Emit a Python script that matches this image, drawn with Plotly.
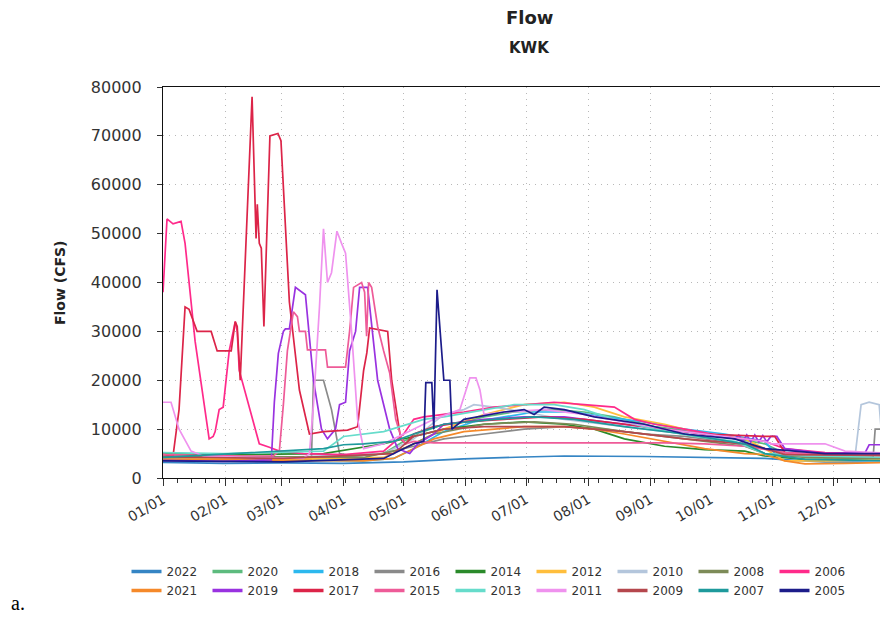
import pandas as pd
import plotly.graph_objects as go

# ---- data (day of year offset from 01/01, flow in CFS) ----
d2022 = [0, 30, 60, 90, 120, 135, 150, 180, 200, 240, 270, 300, 315, 330, 364]
v2022 = [3200, 3000, 3100, 3000, 3300, 3600, 3900, 4300, 4500, 4400, 4200, 4000, 3600, 3300, 3200]

d2021 = [0, 60, 100, 115, 125, 135, 150, 165, 180, 200, 215, 230, 250, 270, 290, 300, 310, 320, 340, 364]
v2021 = [3800, 3600, 3500, 4000, 6000, 8000, 9500, 10000, 10500, 10500, 10000, 9000, 7500, 6000, 5000, 4800, 3500, 2900, 3000, 3200]

d2020 = [0, 40, 90, 110, 120, 130, 140, 150, 160, 175, 195, 210, 225, 245, 265, 285, 300, 310, 330, 364]
v2020 = [4600, 4300, 4300, 5000, 7500, 9500, 11000, 11500, 12500, 13500, 14000, 13500, 12500, 10500, 9500, 8000, 7000, 5000, 4200, 4000]

d2019 = [0, 30, 54, 55.5, 57.5, 60, 61, 63, 66, 71, 75, 79, 82, 86, 88, 91, 93, 96, 98, 102, 107, 113, 117, 123,
         127, 135, 140, 160, 180, 200, 220, 240, 260, 280, 285, 287, 289, 291, 293, 295, 297, 299, 301, 303, 306,
         310, 330, 350, 352, 364]
v2019 = [3600, 3400, 3700, 15500, 25500, 30000, 30500, 30500, 39000, 37500, 20000, 10000, 8000, 10000, 15000, 15500,
         26000, 30000, 39000, 39000, 20000, 10000, 6000, 5000, 7000, 9000, 11000, 12000, 12500, 12500, 11500, 10500,
         9500, 8500, 8000, 8800, 7500, 8800, 7400, 8800, 7400, 8700, 7400, 8500, 8500, 6000, 5000, 5200, 6800, 6800]

d2018 = [0, 60, 100, 115, 125, 140, 155, 170, 185, 205, 220, 240, 260, 280, 300, 305, 320, 340, 364]
v2018 = [4000, 3700, 3500, 4000, 6000, 9500, 11500, 12500, 13500, 13500, 12500, 11500, 10000, 9000, 7500, 5000, 4500, 4200, 4000]

d2017 = [0, 3, 5, 8, 11, 13, 17, 24, 27, 34, 36, 37, 38.5, 44.4, 46.4, 47, 48, 49, 50.3, 53.3, 57.3, 58.8, 63, 68,
         73, 80, 92, 97, 100, 101.6, 103, 112, 114, 116, 118.5, 121, 125, 135, 150, 170, 190, 210, 230, 250, 270,
         300, 305, 310, 330, 364]
v2017 = [5000, 4500, 4500, 14000, 35000, 34500, 30000, 30000, 26000, 26000, 32000, 31000, 20000, 78000, 49000,
         56000, 48000, 47000, 31000, 70000, 70500, 69000, 36000, 18000, 9000, 9500, 9800, 10500, 22000, 25600,
         30700, 30000, 20000, 15000, 8000, 7000, 9000, 10500, 11500, 12000, 12500, 12000, 11000, 10000, 9000,
         8500, 8500, 5200, 4800, 4600]

d2016 = [0, 60, 74, 75, 79, 80, 84, 88, 95, 110, 125, 130, 140, 160, 180, 200, 220, 240, 260, 280, 300, 320, 340, 354, 355, 364]
v2016 = [4000, 3700, 3800, 20000, 20000, 20000, 14000, 5000, 4500, 5000, 6500, 7000, 8000, 9000, 10000, 10500,
         10000, 9000, 8500, 7500, 6000, 4500, 4200, 4300, 10000, 10000]

d2015 = [0, 20, 40, 55, 58, 60, 62, 65, 67, 68, 71, 72, 81, 82, 91, 93, 95, 99, 100.5, 101.5, 102.5, 104, 107, 110,
         113, 116, 119, 121, 125, 135, 150, 200, 250, 270, 290, 310, 330, 364]
v2015 = [4800, 4600, 4500, 4500, 5500, 15000, 26000, 34000, 33000, 30000, 30000, 26200, 26200, 22700, 22700, 30000,
         39000, 40000, 38000, 29000, 40000, 39000, 31000, 26000, 21500, 12000, 8000, 7000, 7500, 7200, 7200, 7200,
         7200, 7000, 6500, 5200, 4800, 4600]

d2014 = [0, 40, 80, 95, 110, 125, 140, 160, 180, 200, 215, 230, 250, 270, 290, 300, 320, 364]
v2014 = [5000, 4800, 5000, 6000, 7000, 8500, 10000, 11000, 11500, 11000, 10000, 8000, 6500, 5800, 5500, 4500, 3800, 3800]

d2013 = [0, 30, 80, 90, 110, 120, 130, 140, 160, 175, 195, 210, 225, 245, 265, 285, 300, 320, 364]
v2013 = [5200, 5000, 5500, 8500, 9500, 10800, 12000, 12500, 14000, 15000, 15000, 14000, 12000, 10000, 8500, 7500, 5000, 4500, 4200]

d2012 = [0, 60, 110, 125, 140, 160, 180, 200, 215, 230, 250, 270, 290, 300, 310, 330, 364]
v2012 = [4200, 3800, 4200, 7000, 10000, 13000, 15000, 15500, 14500, 12500, 11000, 9000, 8000, 6000, 3500, 3500, 3800]

d2011 = [0, 4, 8, 14, 20, 40, 70, 73, 75, 78, 80, 82, 84, 86.7, 89, 91, 94, 97, 100, 110, 120, 135, 148, 151, 153,
         156, 158, 160, 170, 190, 210, 230, 250, 270, 290, 300, 303, 330, 340, 364]
v2011 = [15500, 15500, 10000, 5500, 4500, 4200, 4000, 5000, 15000, 35000, 51000, 40000, 42000, 50500, 48000, 46000,
         30000, 12000, 6000, 7000, 9000, 12000, 14000, 18000, 20500, 20500, 18000, 13000, 13500, 14000, 13000,
         11500, 10000, 9000, 8000, 7500, 7000, 7000, 5500, 5000]

d2010 = [0, 60, 110, 125, 140, 150, 155, 165, 180, 200, 230, 260, 290, 300, 330, 345, 348, 352, 357, 359, 364]
v2010 = [4500, 4200, 5000, 8000, 13000, 14000, 15000, 14500, 13500, 12000, 10500, 9000, 7000, 5000, 4500, 4500,
         15000, 15500, 15000, 5000, 5000]

d2009 = [0, 60, 115, 125, 140, 160, 180, 200, 230, 260, 290, 300, 310, 364]
v2009 = [4300, 4000, 5000, 8500, 10000, 10500, 10500, 10500, 9500, 8000, 7000, 6000, 4800, 4600]

d2008 = [0, 100, 120, 135, 160, 185, 205, 230, 260, 290, 300, 320, 364]
v2008 = [4500, 4200, 6000, 9000, 11000, 11500, 11000, 9500, 8000, 6500, 5000, 4200, 4000]

d2007 = [0, 80, 90, 100, 115, 125, 140, 165, 185, 205, 230, 260, 290, 300, 320, 364]
v2007 = [4200, 6000, 6800, 7000, 7500, 9000, 11000, 12000, 12500, 12000, 10500, 9000, 7000, 5000, 3800, 3500]

d2006 = [0, 2, 5, 9, 11, 16, 23, 25, 26, 28, 30, 33, 36, 37, 38, 43, 48, 53, 58, 70, 90, 110, 120, 125, 130, 140,
         150, 165, 180, 195, 210, 225, 235, 245, 260, 280, 300, 310, 330, 364]
v2006 = [38000, 53000, 52000, 52500, 48000, 28000, 8000, 8500, 9500, 14000, 14500, 26000, 32000, 30000, 22000,
         14500, 7000, 6300, 5500, 5000, 4800, 5500, 9000, 12000, 12500, 13000, 13500, 14500, 15000, 15500, 15000,
         14500, 12000, 11000, 10000, 8500, 7500, 6000, 5200, 5000]

d2005 = [0, 60, 110, 125, 130, 131, 134, 135, 136.6, 140, 143, 144, 150, 170, 180, 185, 190, 200, 215, 240, 260,
         285, 300, 330, 358.5, 360, 364]
v2005 = [3500, 3300, 4000, 7000, 7500, 19500, 19500, 10000, 38500, 20000, 20000, 10000, 12000, 13500, 14000, 13000,
         14500, 14000, 12500, 11000, 9000, 8000, 6000, 5000, 5000, 15000, 15000]

years = ["2022", "2020", "2018", "2016", "2014", "2012", "2010", "2008", "2006",
         "2021", "2019", "2017", "2015", "2013", "2011", "2009", "2007", "2005"]
days = {"2022": d2022, "2021": d2021, "2020": d2020, "2019": d2019, "2018": d2018, "2017": d2017,
        "2016": d2016, "2015": d2015, "2014": d2014, "2013": d2013, "2012": d2012, "2011": d2011,
        "2010": d2010, "2009": d2009, "2008": d2008, "2007": d2007, "2006": d2006, "2005": d2005}
vals = {"2022": v2022, "2021": v2021, "2020": v2020, "2019": v2019, "2018": v2018, "2017": v2017,
        "2016": v2016, "2015": v2015, "2014": v2014, "2013": v2013, "2012": v2012, "2011": v2011,
        "2010": v2010, "2009": v2009, "2008": v2008, "2007": v2007, "2006": v2006, "2005": v2005}
colors = {"2022": "#3585c4", "2021": "#f5892a", "2020": "#5dbb7e", "2019": "#9932e0", "2018": "#2cb8ee",
          "2017": "#dc2448", "2016": "#8a8a8a", "2015": "#ee5b98", "2014": "#2a8a2a", "2013": "#66dccb",
          "2012": "#ffbe3c", "2011": "#ef92ee", "2010": "#b4c6dc", "2009": "#b5474d", "2008": "#7d8b58",
          "2007": "#1e9a9c", "2006": "#ff2a8a", "2005": "#1c1c8a"}

base = pd.Timestamp("2001-01-01")

fig = go.Figure()
for y in years:
    x = base + pd.to_timedelta(days[y], unit="D")
    fig.add_trace(go.Scatter(x=x, y=vals[y], mode="lines", name=y, legendgroup=y, showlegend=False,
                             line=dict(color=colors[y], width=1.7)))
# legend entries (thicker key lines, no marks drawn)
for y in years:
    fig.add_trace(go.Scatter(x=[None], y=[None], mode="lines", name=y, legendgroup=y, showlegend=True,
                             line=dict(color=colors[y], width=3.5)))

# page has an 8px body margin; work in page pixels and convert
OFF = 8
W, H = 888 - OFF, 617 - OFF
L = 163 - OFF          # plot left (figure coords)
T = 87 - OFF           # plot top
BOT = 478 - OFF        # plot bottom
B = H - BOT
pw, ph = W - L, BOT - T

def px(xp):
    return (xp - OFF - L) / pw

def py(yp):
    return (BOT - (yp - OFF)) / ph

fig.update_layout(
    width=W, height=H,
    margin=dict(l=L, r=0, t=T, b=B, pad=0),
    paper_bgcolor="white", plot_bgcolor="white",
    font=dict(family="DejaVu Sans", size=14, color="#333333"),
    showlegend=True,
    legend=dict(orientation="h", x=px(491), xanchor="center", y=py(557), yanchor="top",
                font=dict(size=12, color="#333333"), itemwidth=30, entrywidth=36,
                traceorder="normal", tracegroupgap=0),
    annotations=[
        dict(text="<b>Flow</b>", x=px(529), y=py(17), xref="paper", yref="paper",
             showarrow=False, font=dict(size=18, color="#222222"), xanchor="center", yanchor="middle"),
        dict(text="<b>KWK</b>", x=px(529), y=py(48), xref="paper", yref="paper",
             showarrow=False, font=dict(size=15, color="#222222"), xanchor="center", yanchor="middle"),
        dict(text="<b>Flow (CFS)</b>", x=px(60), y=py(283), xref="paper", yref="paper", textangle=-90,
             showarrow=False, font=dict(size=14, color="#222222"), xanchor="center", yanchor="middle"),
        dict(text="a.", x=px(9), y=py(603), xref="paper", yref="paper",
             showarrow=False, font=dict(family="Liberation Serif", size=20, color="#000000"),
             xanchor="left", yanchor="middle"),
    ],
)

grid_dash = "1px,5px"
fig.update_xaxes(
    type="date", range=[base, base + pd.Timedelta(days=361.4)],
    dtick="M1", tick0="2001-01-01", tickformat="%m/%d", tickangle=-30,
    ticks="outside", ticklen=7, tickcolor="#333333",
    showline=True, linecolor="#111111", linewidth=1.2, mirror=True,
    showgrid=True, gridcolor="#b8b8b8", griddash=grid_dash, gridwidth=1,
    minor=dict(ticks="outside", ticklen=4, dtick=7 * 86400000, tick0="2001-01-01",
               tickcolor="#333333", showgrid=False),
    tickfont=dict(size=14), zeroline=False,
)
fig.update_yaxes(
    range=[0, 80000], dtick=10000, tickformat="d",
    ticks="outside", ticklen=5, tickcolor="#333333", ticklabelstandoff=12,
    showline=True, linecolor="#111111", linewidth=1.2, mirror=False,
    showgrid=True, gridcolor="#b8b8b8", griddash=grid_dash, gridwidth=1,
    zeroline=False, tickfont=dict(size=16),
)

fig.write_html("out.html")
